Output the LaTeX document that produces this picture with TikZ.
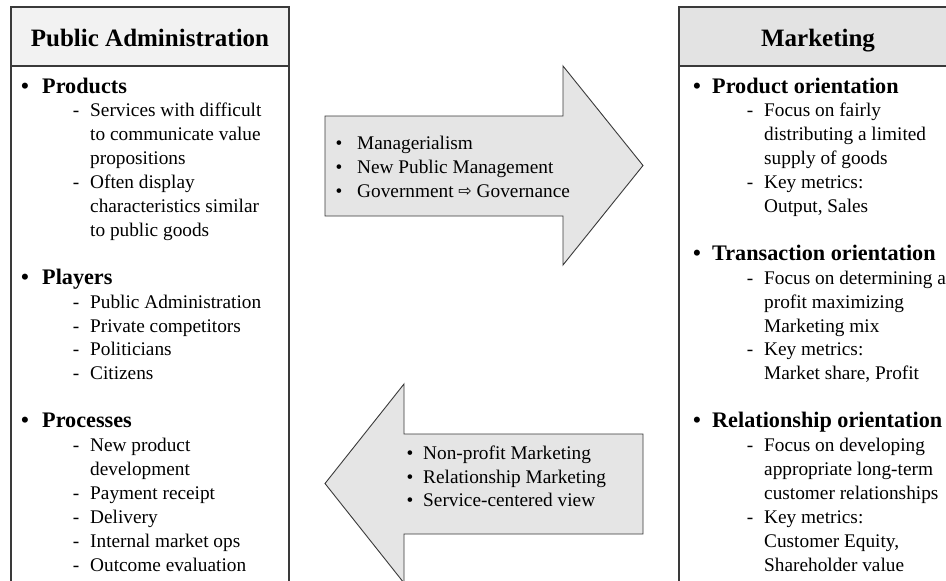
\documentclass[tikz,border=0pt]{standalone}
\usepackage{fontspec}
\setmainfont{Liberation Serif}
\newfontfamily\symfnt{DejaVu Sans}
\definecolor{hdrL}{HTML}{F2F2F2}
\definecolor{hdrR}{HTML}{E3E3E3}
\definecolor{arrfill}{HTML}{E5E5E5}
\definecolor{edge}{HTML}{3A3A3A}
\tikzset{
  bodytxt/.style={font=\fontsize{19.3}{23.9}\selectfont, anchor=base west, inner sep=0pt},
  headtxt/.style={font=\fontsize{22.2}{26}\selectfont\bfseries, anchor=base west, inner sep=0pt},
  titletxt/.style={font=\fontsize{25}{30}\selectfont\bfseries, anchor=base, inner sep=0pt},
  bulmark/.style={font=\fontsize{19.3}{23.9}\selectfont, anchor=base, inner sep=0pt},
  hbulmark/.style={font=\fontsize{22.2}{26}\selectfont\bfseries, anchor=base, inner sep=0pt},
  boxline/.style={draw=edge, line width=1.2pt},
  arrowshape/.style={draw=edge, fill=arrfill, line width=0.9pt, line join=miter},
}
\begin{document}
\begin{tikzpicture}[x=1pt, y=-1pt]
\useasboundingbox (0,0) rectangle (946,581);
\fill[white] (0,0) rectangle (946,581);
% left box
\fill[hdrL] (11,7) rectangle (289,66);
\draw[boxline] (11,590) -- (11,7) -- (289,7) -- (289,590);
\draw[boxline] (11,66) -- (289,66);
% right box
\fill[hdrR] (679,7) rectangle (960,66);
\draw[boxline] (679,590) -- (679,7) -- (960,7);
\draw[boxline] (679,66) -- (960,66);
% titles
\node[titletxt] (tL) at (150,46) {Public Administration};
\node[titletxt] (tR) at (818,46) {Marketing};
% arrows
\draw[arrowshape] (325,116) -- (563,116) -- (563,66) -- (643,165.5) -- (563,265) -- (563,216) -- (325,216) -- cycle;
\draw[arrowshape] (643,434) -- (404,434) -- (404,384) -- (325,483.5) -- (404,583) -- (404,534) -- (643,534) -- cycle;
% upper arrow text
\foreach \y/\t [count=\k] in {149/Managerialism, 173/New Public Management, 197/{Government {\symfnt\fontsize{16}{16}\selectfont\raisebox{0.5pt}{⇨}} Governance}}{
  \node[bulmark] (ub\k) at (339,\y) {•};
  \node[bodytxt] (ut\k) at (357,\y) {\t};
}
% lower arrow text
\foreach \y/\t [count=\k] in {459/Non-profit Marketing, 483/Relationship Marketing, 506/Service-centered view}{
  \node[bulmark] (lb\k) at (410,\y) {•};
  \node[bodytxt] (lt\k) at (423,\y) {\t};
}
% left box headings
\foreach \r/\t [count=\k] in {0/Products, 8/Players, 14/Processes}{
  \node[hbulmark] (LH\k b) at (25,{93+23.9*\r}) {•};
  \node[headtxt] (LH\k) at (42,{93+23.9*\r}) {\t};
}
% left box dashes
\foreach \r [count=\k] in {1,4,9,10,11,12,15,17,18,19,20}{
  \node[bulmark] (LD\k) at (76,{93+23.9*\r}) {-};
}
% left box lines
\foreach \r/\t [count=\k] in {1/Services with difficult, 2/to communicate value, 3/propositions, 4/Often display, 5/characteristics similar, 6/to public goods, 9/Public Administration, 10/Private competitors, 11/Politicians, 12/Citizens, 15/New product, 16/development, 17/Payment receipt, 18/Delivery, 19/Internal market ops, 20/Outcome evaluation}{
  \node[bodytxt] (LT\k) at (90,{93+23.9*\r}) {\t};
}
% right box headings
\foreach \r/\t [count=\k] in {0/Product orientation, 7/Transaction orientation, 14/Relationship orientation}{
  \node[hbulmark] (RH\k b) at (697,{93+23.9*\r}) {•};
  \node[headtxt] (RH\k) at (712,{93+23.9*\r}) {\t};
}
% right box dashes
\foreach \r [count=\k] in {1,4,8,11,15,18}{
  \node[bulmark] (RD\k) at (750,{93+23.9*\r}) {-};
}
% right box lines
\foreach \r/\t [count=\k] in {1/Focus on fairly, 2/distributing a limited, 3/supply of goods, 4/Key metrics:, 5/{Output, Sales}, 8/Focus on determining a, 9/profit maximizing, 10/Marketing mix, 11/Key metrics:, 12/{Market share, Profit}, 15/Focus on developing, 16/appropriate long-term, 17/customer relationships, 18/Key metrics:, 19/{Customer Equity,}, 20/Shareholder value}{
  \node[bodytxt] (RT\k) at (764,{93+23.9*\r}) {\t};
}
\end{tikzpicture}
\end{document}
